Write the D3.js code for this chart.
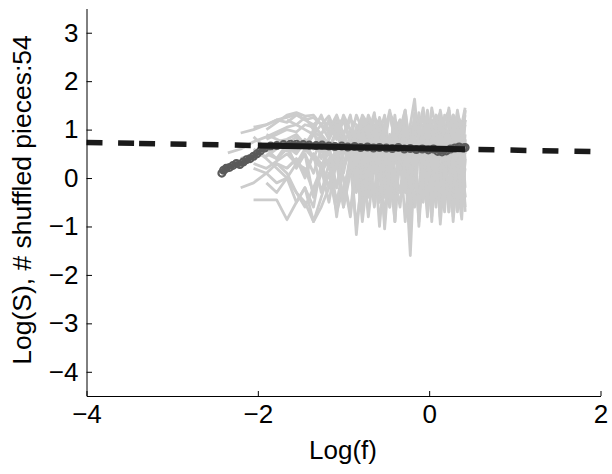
<!DOCTYPE html>
<html><head><meta charset="utf-8">
<script src="https://cdn.jsdelivr.net/npm/d3@7"></script>
<style>
html,body{margin:0;padding:0;background:#fff;}
svg text{font-family:"Liberation Sans",Arial,Helvetica,sans-serif;fill:#000;}
</style></head>
<body><svg id="chart" width="612" height="474"></svg>
<script>
// ---- data ----
const xTicks = [-4, -2, 0, 2];
const yTicks = [-4, -3, -2, -1, 0, 1, 2, 3];
const xLabel = "Log(f)";
const yLabel = "Log(S), # shuffled pieces:54";

// shared log-frequency grid of the shuffled-piece spectra (series are right-aligned to it)
const freqGrid = [-2.35,-2.2,-2.05,-1.9,-1.78,-1.66,-1.55,-1.45,-1.35,-1.26,-1.17,-1.08,-1.0,-0.92,-0.85,-0.78,-0.71,-0.64,-0.58,-0.52,-0.46,-0.40,-0.34,-0.28,-0.22,-0.17,-0.12,-0.07,-0.02,0.03,0.08,0.13,0.18,0.23,0.28,0.33,0.38,0.42];

const g01 = [0.52,0.6,0.75,0.85,0.95,1.05,1.1,1.0,0.9,1.1,0.8,1.2,0.7,1.0,0.5,1.1,0.9,0.3,1.2,0.8,0.6,1.3,0.4,1.0,0.9,-0.2,1.1,0.7,1.3,0.5,0.9,1.2,0.2,1.0,0.6,1.3,0.8,1.1];
const g02 = [0.93,1.0,1.1,1.2,1.25,1.32,1.2,1.25,1.1,1.0,1.2,0.9,1.3,0.6,1.0,1.2,0.4,0.9,1.1,0.2,1.0,0.7,1.2,0.5,1.35,0.8,0.3,1.0,0.6,1.2,-0.1,0.9,1.4,0.5,1.1,0.0,1.2];
const g03 = [-0.2,-0.1,0.1,0.3,0.2,0.4,0.1,0.5,0.3,-0.2,0.6,0.2,0.8,-0.3,0.5,0.9,0.1,0.6,-0.4,0.8,0.3,1.0,-0.2,0.7,0.5,-0.6,0.9,0.4,0.1,0.8,-0.3,1.0,0.5,-0.5,0.7,0.9,-0.2];
const g04 = [-0.45,-0.45,-0.45,-0.86,-0.5,-0.2,-0.6,0.3,-0.2,0.5,0.0,-0.7,0.4,0.8,-0.1,0.6,-0.5,0.9,0.2,-0.9,0.5,1.0,0.0,-0.6,0.7,0.3,-0.8,0.6,1.1,-0.3,0.4,-0.7,0.8,0.2,-0.4,0.6];
const g05 = [0.85,0.6,0.4,0.7,0.2,0.5,-0.4,0.1,0.6,-0.8,0.3,0.7,-1.17,0.2,0.5,-0.5,0.8,0.4,-0.3,0.9,0.6,-0.9,0.3,0.8,1.1,0.1,-0.4,0.7,0.4,-0.8,1.0,0.3,-0.5,0.9,0.6,-0.6];
const g06 = [0.6,0.4,0.2,0.0,-0.3,-0.5,-0.9,-0.6,-0.2,0.3,-0.4,0.5,0.1,-0.7,0.6,0.2,1.0,-0.2,0.5,-0.9,0.7,0.3,-1.6,0.4,0.9,-0.4,0.6,0.2,1.2,-0.3,0.5,0.8,-0.8,0.3,1.0,0.4];
const g07 = [1.0,1.15,1.3,1.35,1.28,1.3,1.1,1.28,0.9,1.2,1.0,0.8,1.3,1.1,0.7,1.25,0.9,0.5,1.2,1.0,0.3,1.1,1.63,0.6,1.0,1.3,0.2,0.9,1.2,0.7,1.45,0.5,1.1,0.9,1.3];
const g08 = [0.4,0.5,0.45,0.6,0.7,0.55,0.8,0.6,0.9,0.7,0.5,0.95,0.4,0.8,1.0,0.3,0.9,0.6,1.1,0.2,0.8,1.0,0.5,-0.3,0.9,1.2,0.4,0.7,-0.5,1.0,0.6,0.9,0.1,1.1,0.7,-0.2,0.8];
const g09 = [0.2,0.1,-0.1,0.0,0.3,0.2,-0.3,0.1,0.4,-0.5,0.2,0.6,-0.1,0.5,-0.8,0.3,0.7,0.0,-0.6,0.5,0.8,-0.2,0.4,0.9,-1.0,0.3,0.6,-0.4,0.8,0.1,-0.7,0.5,0.9,-0.1,-0.85,0.4];
const g10 = [0.8,0.9,1.0,0.95,1.1,1.05,0.9,1.15,0.8,1.2,0.7,1.0,1.25,0.6,1.1,0.9,1.3,0.5,1.0,1.2,0.4,1.1,0.8,1.35,0.3,1.0,1.2,0.6,1.4,0.9,0.2,1.3,1.0,0.7,1.4];
const g11 = [0.3,0.2,0.35,0.5,0.3,0.6,0.4,0.2,0.7,0.5,0.1,0.8,0.3,-0.2,0.6,0.9,0.0,0.5,0.7,-0.4,0.8,0.3,1.0,0.1,-0.3,0.7,0.9,0.2,-0.6,0.6,1.0,0.3,0.0,0.8,0.5,-0.4];
const g12 = [0.6,0.7,0.65,0.5,0.75,0.4,0.8,0.55,0.3,0.9,0.6,0.2,0.85,-0.1,0.7,1.0,0.4,-0.5,0.8,0.6,1.1,0.0,0.7,-0.8,0.9,0.5,1.0,-0.2,0.6,0.8,-0.6,0.9,0.3,1.1,0.5];
const g13 = [-0.1,-0.3,0.0,-0.5,-0.2,-0.9,-0.4,0.1,-0.7,-0.2,0.3,-1.0,0.0,0.4,-0.6,0.2,-0.9,0.5,0.1,-0.3,0.6,-1.1,0.3,0.7,-0.5,0.2,-0.8,0.6,0.0,-0.4,0.5,-0.9,0.2,0.7,-0.7];
const g14 = [1.05,1.1,1.2,1.15,1.3,1.2,1.1,1.25,1.0,1.3,0.9,1.2,1.1,0.8,1.3,1.0,1.2,0.7,1.35,1.1,0.9,1.4,0.6,1.2,1.0,1.45,0.8,1.1,1.3,0.5,1.2,1.4,0.9,1.3,1.1,1.45];
const g15 = [0.5,0.4,0.6,0.3,0.5,0.1,0.6,0.2,-0.2,0.5,0.7,-0.1,0.4,0.8,-0.5,0.6,0.3,0.9,-0.3,0.5,0.7,0.0,1.0,-0.7,0.4,0.8,0.2,-0.1,0.9,0.5,-0.5,0.7,1.0,0.1,0.6];
const g16 = [0.9,0.8,0.7,0.85,0.6,0.9,0.75,0.5,1.0,0.7,0.4,0.95,0.6,1.1,0.3,0.8,1.0,0.5,-0.1,0.9,1.2,0.6,0.2,1.0,0.7,1.3,0.4,0.9,-0.3,1.1,0.8,0.5,1.2,0.0,0.9];
const g17 = [0.3,0.1,-0.3,-0.6,-0.2,0.2,-0.5,0.4,0.0,-0.8,0.3,0.6,-0.3,0.5,-1.0,0.2,0.7,-0.4,0.4,0.9,-0.7,0.3,0.6,-0.2,0.8,-0.9,0.4,0.1,0.7,-0.6,0.5,0.9,-0.3,0.2];
const g18 = [0.75,0.8,0.9,0.7,0.95,0.85,0.6,1.0,0.8,0.5,1.05,0.7,0.9,0.3,1.1,0.8,0.6,1.2,0.4,0.9,1.0,0.1,1.1,0.7,1.25,0.5,0.8,1.1,-0.2,1.0,1.3,0.6,0.9,1.2];
const g19 = [0.2,0.4,0.0,0.5,-0.3,0.3,0.6,-0.6,0.4,0.1,0.7,-0.4,0.5,0.8,-0.2,0.3,-0.7,0.6,0.9,0.0,-0.5,0.7,0.2,1.0,-0.3,0.5,-0.85,0.8,0.3,-0.1,0.9,-0.6,0.4];
const g20 = [1.2,1.1,1.25,1.0,1.3,0.9,1.15,1.2,0.8,1.3,1.0,0.6,1.25,1.1,0.9,1.4,0.7,1.2,1.0,0.4,1.3,1.1,0.8,1.4,0.6,1.2,1.35,0.9,0.3,1.3,1.1,0.7,1.4];
const g21 = [0.9,0.6,1.0,0.4,0.8,1.1,0.2,0.7,0.9,-0.4,0.6,1.0,0.3,0.8,-0.6,0.9,0.5,1.2,-0.1,0.7,0.4,1.1,-0.7,0.8,0.6,1.3,0.0,0.9,0.5,-0.5,1.0,0.7];
const g22 = [0.5,0.2,0.7,-0.2,0.6,0.3,0.9,-0.5,0.4,0.8,0.1,-0.8,0.6,1.0,0.2,-0.3,0.8,0.5,-0.9,0.7,1.1,0.3,-0.4,0.9,0.6,-0.7,0.5,1.2,0.1,0.8];
const g23 = [1.1,0.9,1.2,0.8,1.3,1.0,0.7,1.25,0.9,1.35,0.6,1.1,1.3,0.8,1.0,1.4,0.5,1.2,0.9,1.3,0.7,1.45,1.0,0.4,1.3,1.1,0.8,1.4,0.9,1.2];
const g24 = [-0.2,0.3,-0.6,0.1,0.5,-0.9,0.2,-0.3,0.6,-1.05,0.3,0.0,-0.6,0.5,-0.2,0.7,-0.8,0.1,0.4,-0.5,0.6,-0.95,0.2,-0.1,0.5,-0.7,0.3,-0.4];
const shuffled = [g01,g02,g03,g04,g05,g06,g07,g08,g09,g10,g11,g12,g13,g14,g15,g16,g17,g18,g19,g20,g21,g22,g23,g24];

// original (unshuffled) spectrum, drawn with circle markers
const origX = [-2.42,-2.40,-2.37,-2.33,-2.29,-2.25,-2.21,-2.17,-2.13,-2.09,-2.05,-2.01,-1.97,-1.92,-1.85,-1.78,-1.7,-1.62,-1.55,-1.47,-1.4,-1.32,-1.25,-1.17,-1.1,-1.02,-0.95,-0.87,-0.8,-0.72,-0.65,-0.58,-0.5,-0.43,-0.36,-0.29,-0.22,-0.15,-0.08,-0.01,0.05,0.1,0.15,0.2,0.25,0.3,0.35,0.4,0.42];
const origY = [0.1,0.16,0.2,0.22,0.26,0.3,0.28,0.33,0.38,0.4,0.45,0.5,0.56,0.62,0.66,0.67,0.69,0.7,0.7,0.69,0.68,0.67,0.68,0.66,0.65,0.66,0.64,0.65,0.63,0.64,0.62,0.63,0.62,0.61,0.63,0.6,0.61,0.59,0.6,0.58,0.6,0.55,0.54,0.56,0.6,0.62,0.64,0.62,0.63];

// linear fit of the spectrum
const fitIntercept = 0.607;
const fitSlope = -0.032;
const fitSolidRange = [-2.0, 0.42];   // fitted range (solid)
const fitFullRange = [-4, 2];         // extrapolated (dashed)

// ---- drawing ----
const svg = d3.select("#chart");
const x = d3.scaleLinear().domain([-4, 2]).range([86.5, 600.5]);
const y = d3.scaleLinear().domain([-4.5, 3.5]).range([396, 8.5]);
const fit = v => fitIntercept + fitSlope * v;
const line = d3.line().x(d => x(d[0])).y(d => y(d[1]));

// shuffled spectra
const gGray = svg.append("g");
shuffled.forEach(s => {
  const off = freqGrid.length - s.length;
  const pts = s.map((v, i) => [freqGrid[off + i], v]);
  gGray.append("path").attr("d", line(pts))
    .attr("fill", "none").attr("stroke", "#cccccc")
    .attr("stroke-width", 2.8).attr("stroke-linejoin", "round");
});

// original spectrum
const orig = origX.map((v, i) => [v, origY[i]]);
svg.append("path").attr("d", line(orig)).attr("fill", "none")
  .attr("stroke", "#5a5a5a").attr("stroke-width", 4.5).attr("stroke-linejoin", "round");
svg.append("g").selectAll("circle").data(orig).join("circle")
  .attr("cx", d => x(d[0])).attr("cy", d => y(d[1])).attr("r", 3.4)
  .attr("fill", "none").attr("stroke", "#5a5a5a").attr("stroke-width", 2.2);

// fit: solid over fitted range
svg.append("path").attr("d", line(fitSolidRange.map(v => [v, fit(v)])))
  .attr("fill", "none").attr("stroke", "#1a1a1a").attr("stroke-width", 6);
// fit: dashed extrapolations
svg.append("path").attr("d", line([fitFullRange[0], fitSolidRange[0]].map(v => [v, fit(v)])))
  .attr("fill", "none").attr("stroke", "#1a1a1a").attr("stroke-width", 5.5)
  .attr("stroke-dasharray", "16,15.6,16,5,16,15.4,16,16,16,16.3,16,40");
svg.append("path").attr("d", line([fitSolidRange[1], fitFullRange[1]].map(v => [v, fit(v)])))
  .attr("fill", "none").attr("stroke", "#1a1a1a").attr("stroke-width", 5.5)
  .attr("stroke-dasharray", "16,16").attr("stroke-dashoffset", 18.7);

// axes
const fs = "26px";
const fmt = d3.format("d");
const ax = svg.append("g").attr("transform", "translate(0,396)")
  .call(d3.axisBottom(x).tickValues(xTicks).tickFormat(fmt).tickSize(-5).tickSizeOuter(0).tickPadding(9));
const ay = svg.append("g").attr("transform", "translate(86.5,0)")
  .call(d3.axisLeft(y).tickValues(yTicks).tickFormat(fmt).tickSize(-5.5).tickSizeOuter(0).tickPadding(8));
[ax, ay].forEach(a => {
  a.selectAll("text").style("font-size", fs).attr("fill", "#000");
  a.selectAll("line").attr("stroke", "#000");
  a.select(".domain").attr("stroke", "#000");
});

svg.append("text").attr("x", 343).attr("y", 459).attr("text-anchor", "middle")
  .style("font-size", fs).text(xLabel);
svg.append("text").attr("transform", "translate(31,200) rotate(-90)")
  .attr("text-anchor", "middle").style("font-size", "26.5px").text(yLabel);
</script></body></html>
